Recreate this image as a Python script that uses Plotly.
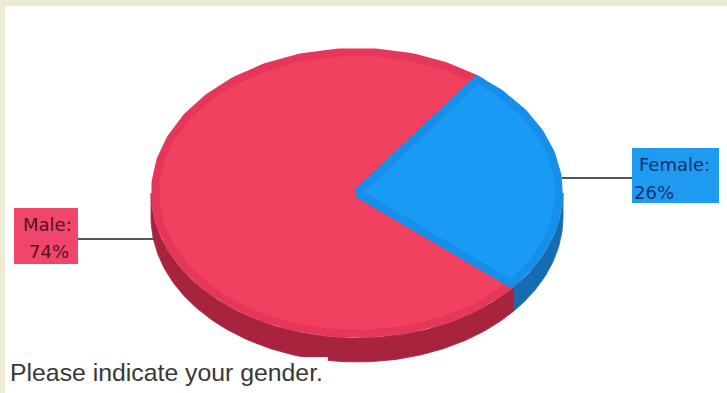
import numpy as np
import plotly.graph_objects as go

# ---- data -------------------------------------------------------------
categories = ["Male", "Female"]
values = [74, 26]
value_labels = ["74%", "26%"]
title_text = "Please indicate your gender."

# ---- styling ------------------------------------------------------------
top_colors = {"Male": "#F2405F", "Female": "#199BF5"}
rim_colors = {"Male": "#E6365A", "Female": "#168FEB"}
wall_colors = {"Male": "#A8233D", "Female": "#156CB0"}
box_colors = {"Male": "#F0466A", "Female": "#1E9BF0"}
text_colors = {"Male": "#5A0E1E", "Female": "#17306E"}

W, H = 727, 393
CX, CY = 357, 193          # centre of the top face (pixel units)
RX, RY = 206, 145          # radii of the top face
DEPTH = 24                 # thickness of the disc
START_DEG = 53.5           # first slice starts here, going counter-clockwise
RIM = 8                    # width of the darker rim on each face

# label boxes: (x0, y0, x1, y1) and the height of the leader line
label_boxes = {"Male": (14, 208, 78, 264), "Female": (632, 148, 719, 203)}
leader_y = {"Male": 239, "Female": 178}


def arc(a0, a1, rx, ry, dy=0.0):
    n = max(int(abs(a1 - a0) / 1.0), 2)
    t = np.radians(np.linspace(a0, a1, n))
    return CX + rx * np.cos(t), CY - ry * np.sin(t) + dy


total = float(sum(values))
bounds = []
acc = 0.0
for v in values:
    a0 = START_DEG + 360.0 * acc / total
    acc += v
    a1 = START_DEG + 360.0 * acc / total
    bounds.append((a0, a1))

fig = go.Figure()

# side wall: only the front half of the disc (angles 180..360) is visible
for cat, (a0, a1) in zip(categories, bounds):
    for k in range(-1, 3):
        lo = max(a0, 180 + 360 * k)
        hi = min(a1, 360 + 360 * k)
        if hi <= lo:
            continue
        xt, yt = arc(lo, hi, RX, RY, 0)
        xb, yb = arc(lo, hi, RX, RY, DEPTH)
        xs = np.concatenate([xt, xb[::-1], xt[:1]])
        ys = np.concatenate([yt, yb[::-1], yt[:1]])
        fig.add_trace(go.Scatter(
            x=xs, y=ys, mode="lines", fill="toself",
            fillcolor=wall_colors[cat],
            line=dict(width=0.8, color=wall_colors[cat]),
            hoverinfo="skip", showlegend=False))

# top faces
for cat, (a0, a1) in zip(categories, bounds):
    xa, ya = arc(a0, a1, RX - RIM / 2, RY - RIM / 2)
    xs = np.concatenate([[CX], xa, [CX]])
    ys = np.concatenate([[CY], ya, [CY]])
    fig.add_trace(go.Scatter(
        x=xs, y=ys, mode="lines", fill="toself",
        fillcolor=top_colors[cat],
        line=dict(color=rim_colors[cat], width=RIM),
        hoverinfo="skip", showlegend=False))

# leader lines from the disc outline to the label boxes
shapes = []
annotations = []
for cat, lab in zip(categories, value_labels):
    bx0, by0, bx1, by1 = label_boxes[cat]
    y = leader_y[cat]
    if y <= CY:
        dy = (y - CY) / RY
    elif y >= CY + DEPTH:
        dy = (y - CY - DEPTH) / RY
    else:
        dy = 0.0
    half = RX * np.sqrt(max(1 - dy * dy, 0))
    if bx0 > CX:
        xs = [CX + half, bx0]
    else:
        xs = [bx1, CX - half]
    fig.add_trace(go.Scatter(
        x=xs, y=[y, y], mode="lines",
        line=dict(color="#1E1E1E", width=1.5),
        hoverinfo="skip", showlegend=False))
    shapes.append(dict(type="rect", xref="x", yref="y", x0=bx0, x1=bx1, y0=by0, y1=by1,
                       fillcolor=box_colors[cat], line=dict(width=0), layer="above"))

# label texts
annotations += [
    dict(x=637, y=164, text="Female:", xanchor="left"),
    dict(x=632, y=192, text=value_labels[1], xanchor="left"),
    dict(x=47, y=224, text="Male:", xanchor="center"),
    dict(x=49, y=251, text=value_labels[0], xanchor="center"),
]
for a, cat in zip(annotations, ["Female", "Female", "Male", "Male"]):
    a.update(xref="x", yref="y", yanchor="middle", showarrow=False,
             font=dict(family="DejaVu Sans", size=18, color=text_colors[cat]))

# caption with its white plate at the bottom left
shapes.append(dict(type="rect", xref="x", yref="y", x0=5, x1=328, y0=357, y1=H,
                   fillcolor="white", line=dict(width=0), layer="above"))
annotations.append(dict(x=8, y=372, xref="x", yref="y", text=title_text,
                        xanchor="left", yanchor="middle", showarrow=False,
                        font=dict(family="Liberation Sans, Arial", size=24.8, color="#383838")))

# beige frame along the top and left edges
shapes.append(dict(type="rect", xref="paper", yref="paper", x0=0, x1=1, y0=1 - 6 / H, y1=1,
                   fillcolor="#ECEAD3", line=dict(width=0), layer="above"))
shapes.append(dict(type="rect", xref="paper", yref="paper", x0=0, x1=5 / W, y0=0, y1=1,
                   fillcolor="#ECEAD3", line=dict(width=0), layer="above"))

fig.update_layout(
    width=W, height=H,
    margin=dict(l=0, r=0, t=0, b=0),
    paper_bgcolor="white", plot_bgcolor="white",
    xaxis=dict(range=[0, W], visible=False, fixedrange=True),
    yaxis=dict(range=[H, 0], visible=False, fixedrange=True),
    shapes=shapes, annotations=annotations,
    showlegend=False, hovermode=False,
)

fig.write_html("out.html", config={"displayModeBar": False})
